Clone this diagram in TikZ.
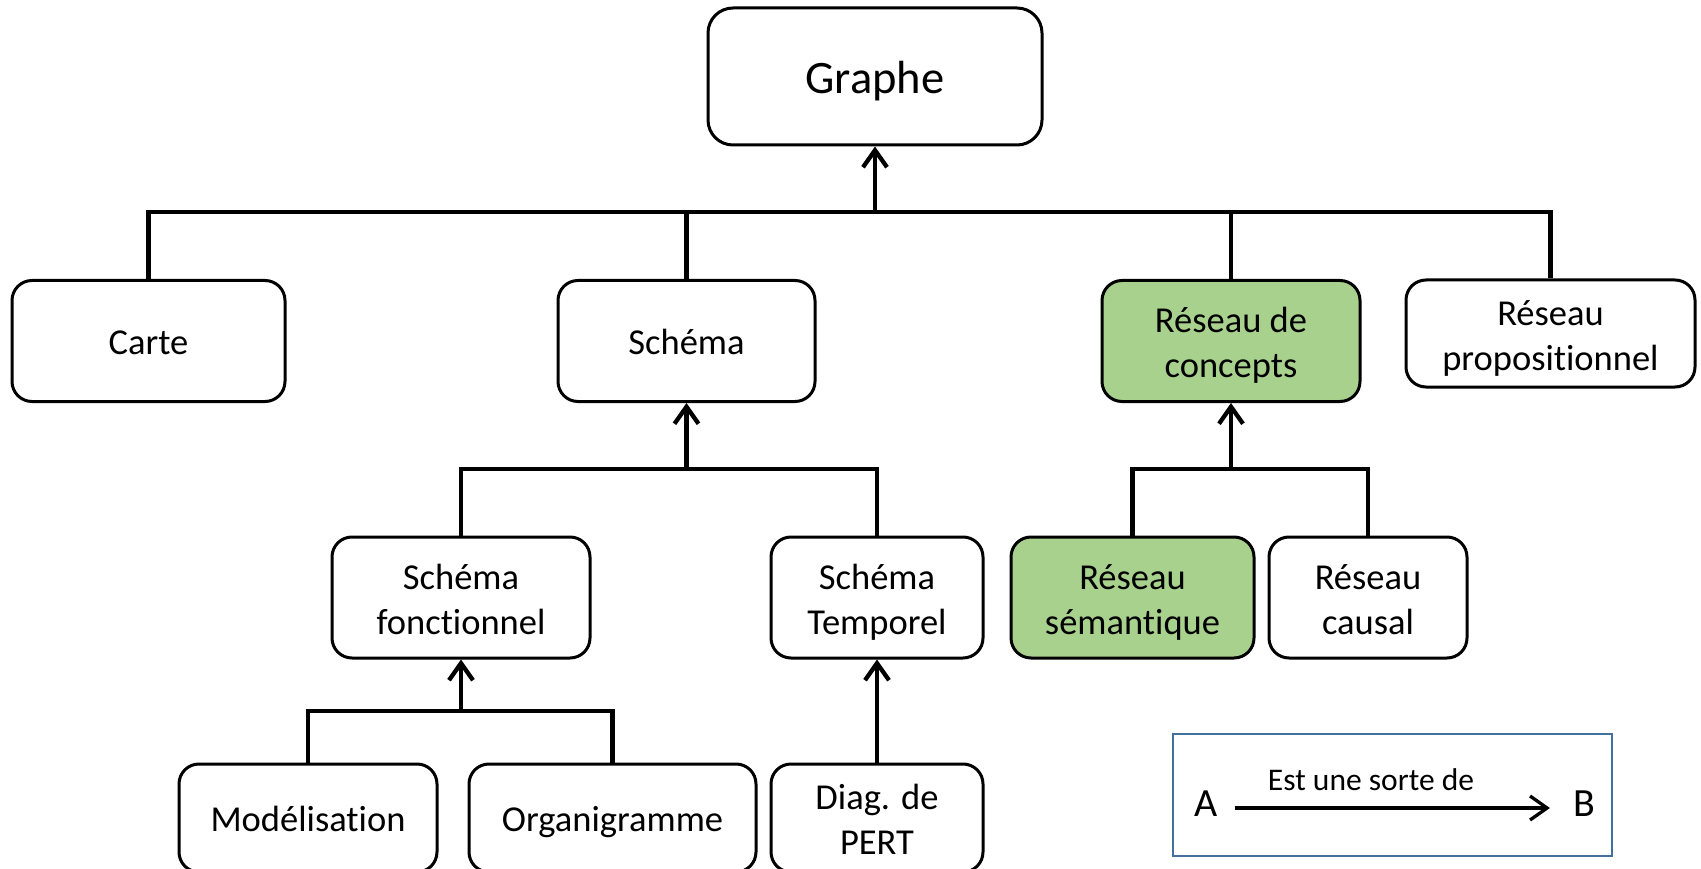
\documentclass[tikz,border=0pt]{standalone}
\usepackage{fontspec}
\setmainfont{Carlito}[Ligatures=NoCommon]
\usetikzlibrary{arrows.meta}
\definecolor{vert}{HTML}{A9D18E}
\definecolor{bleu}{HTML}{41719C}
\begin{document}
\begin{tikzpicture}[x=1pt,y=-1pt,
 box/.style={draw, line width=3pt, rounded corners=20pt, align=center, inner sep=0pt, font=\fontsize{36.5}{45}\selectfont},
 one/.style={text height=27pt, text depth=0pt},
 two/.style={text height=73pt, text depth=0pt},
 bus/.style={line width=4.3pt},
 arr/.style={line width=4.3pt, -{Straight Barb[length=17pt,width=24pt]}},
]
\useasboundingbox (0,0) rectangle (1701,869);
\fill[white] (0,0) rectangle (1701,869);
\clip (0,0) rectangle (1701,869);
% level 0
\node[box, minimum width=334pt, minimum height=137pt, rounded corners=25pt, font=\fontsize{46.5}{55}\selectfont, text height=34pt, text depth=0pt] (graphe) at (875,76.5) {Graphe};
% level 1
\node[box, one, minimum width=273pt, minimum height=121pt] (carte) at (148.5,341) {Carte};
\node[box, one, minimum width=257pt, minimum height=121pt] (schema) at (686.5,341) {Schéma};
\node[box, two, fill=vert, minimum width=258pt, minimum height=121pt] (concepts) at (1231,341) {Réseau de\\concepts};
\node[box, two, minimum width=289pt, minimum height=107pt] (prop) at (1550.5,333.5) {Réseau\\propositionnel};
% level 2
\node[box, two, minimum width=258pt, minimum height=121pt] (fonct) at (461,597.5) {Schéma\\fonctionnel};
\node[box, two, minimum width=212pt, minimum height=121pt] (temp) at (877,597.5) {Schéma\\Temporel};
\node[box, two, fill=vert, minimum width=243pt, minimum height=121pt] (sem) at (1132.5,597.5) {Réseau\\sémantique};
\node[box, two, minimum width=198pt, minimum height=121pt] (causal) at (1368,597.5) {Réseau\\causal};
% level 3
\node[box, one, minimum width=258pt, minimum height=108pt] (model) at (308,818) {Modélisation};
\node[box, one, minimum width=287pt, minimum height=108pt] (organ) at (612.5,818) {Organigramme};
\node[box, two, minimum width=212pt, minimum height=108pt] (pert) at (877,818) {Diag. de\\PERT};
% connectors
\coordinate (b1) at (875,212);
\draw[bus] (carte.north) |- (b1) -| (prop.north);
\draw[bus] (schema.north) -- (schema.north |- b1);
\draw[bus] (concepts.north) -- (concepts.north |- b1);
\draw[arr] (b1) -- (graphe.south);
\coordinate (b2) at (686.5,469);
\draw[bus] (fonct.north) |- (b2) -| (temp.north);
\draw[arr] (b2) -- (schema.south);
\coordinate (b3) at (1231,469);
\draw[bus] (sem.north) |- (b3) -| (causal.north);
\draw[arr] (b3) -- (concepts.south);
\coordinate (b4) at (461,711);
\draw[bus] (model.north) |- (b4) -| (organ.north);
\draw[arr] (b4) -- (fonct.south);
\draw[arr] (pert.north) -- (temp.south);
% legend
\node[draw=bleu, line width=2.5pt, minimum width=439pt, minimum height=122pt, inner sep=0pt] (legend) at (1392.5,795) {};
\node[font=\fontsize{40}{48}\selectfont, inner sep=0pt, text height=25.8pt, text depth=8pt] (A) at (1206,808) {A};
\node[font=\fontsize{40}{48}\selectfont, inner sep=0pt, text height=25.8pt, text depth=8pt] (B) at (1584,808) {B};
\node[font=\fontsize{31.5}{38}\selectfont, inner sep=0pt, text height=20.3pt, text depth=0pt] (lab) at (1371,780) {Est une sorte de};
\draw[line width=3.3pt, -{Straight Barb[length=17pt,width=24pt]}, shorten <=17pt, shorten >=23pt] (A.east) -- (B.west);
\end{tikzpicture}
\end{document}
